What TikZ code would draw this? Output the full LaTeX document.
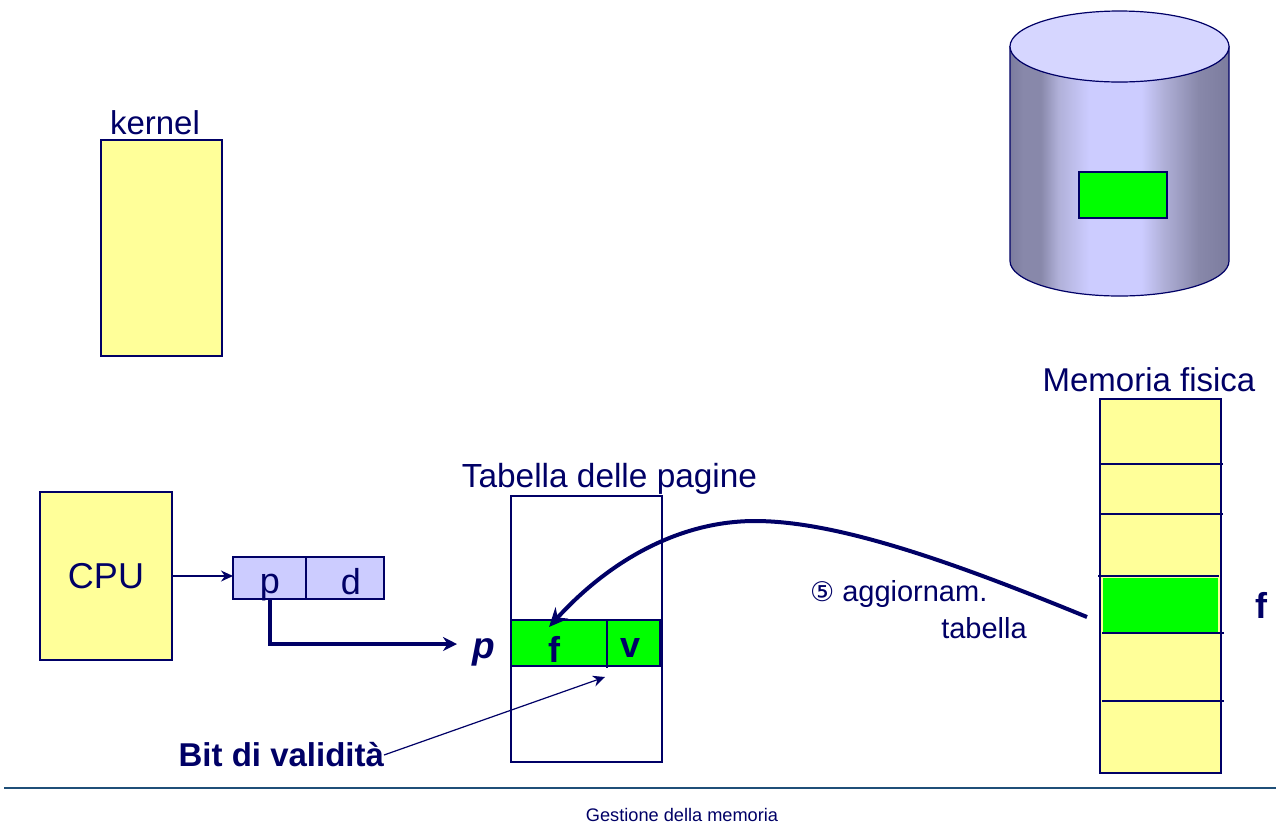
\documentclass[tikz,border=0pt]{standalone}
\usepackage{fontspec}
\setmainfont{Liberation Sans}
\newfontfamily\symfont{DejaVu Sans}
\definecolor{ink}{HTML}{000066}
\definecolor{paleyellow}{HTML}{FFFF99}
\definecolor{lav}{HTML}{CCCCFF}
\definecolor{lavtop}{HTML}{D6D6FF}
\definecolor{brightgreen}{HTML}{00FF00}
\definecolor{rulecol}{HTML}{1F4F78}
\definecolor{cyldark}{HTML}{7C7C9E}
\definecolor{cylmid}{HTML}{8888AA}
\definecolor{cylsoft}{HTML}{B0B0D8}
\pgfdeclarehorizontalshading{cylshade}{100bp}{
  color(0bp)=(cyldark); color(25bp)=(cyldark); color(28bp)=(cylmid);
  color(32bp)=(cylmid); color(36bp)=(cylsoft); color(43bp)=(lav);
  color(55bp)=(lav); color(60bp)=(cylsoft); color(68bp)=(cylmid);
  color(75bp)=(cyldark); color(100bp)=(cyldark)}
\usetikzlibrary{arrows.meta}
\tikzset{
  every node/.style={text=ink,inner sep=0pt,outer sep=0pt},
  boxline/.style={draw=ink,line width=1.2pt},
  rectbox/.style={boxline,rectangle,minimum width=#1},
  lab/.style={font=\fontsize{33}{36}\selectfont},
  biglab/.style={font=\fontsize{36}{40}\selectfont},
  boldlab/.style={font=\fontsize{36}{40}\selectfont\bfseries},
  small/.style={font=\fontsize{29}{32}\selectfont},
  thinarrow/.style={draw=ink,line width=1.2pt,-{Stealth[length=12pt,width=11pt]}},
  thickarrow/.style={draw=ink,line width=4pt,-{Stealth[length=14pt,width=14pt]}},
  divider/.style={draw=ink,line width=1.1pt},
}
\begin{document}
\begin{tikzpicture}[x=1pt,y=-1pt]
\useasboundingbox (0,0) rectangle (1276,823);

% disk
\shade[shading=cylshade,draw=ink,line width=1.2pt]
  (1010,46) -- (1010,261) arc[start angle=180,end angle=360,x radius=109.5pt,y radius=35pt]
  -- (1229,46) arc[start angle=360,end angle=180,x radius=109.5pt,y radius=35.5pt] -- cycle;
\draw[boxline,fill=lavtop] (1119.5,46.5) ellipse[x radius=109.5pt,y radius=35.5pt];
\node[rectbox=88pt,minimum height=46pt,fill=brightgreen] (diskpage) at (1123,195) {};

% kernel
\node[rectbox=121pt,minimum height=216pt,fill=paleyellow] (kernel) at (161.5,248) {};
\node[lab] (kernellab) at (155,123) {kernel};

% CPU
\node[rectbox=132pt,minimum height=168pt,fill=paleyellow,biglab] (cpu) at (106,576) {CPU};

% logical address
\node[rectbox=73pt,minimum height=42pt,fill=lav] (pcell) at (269.5,578) {};
\node[rectbox=78pt,minimum height=42pt,fill=lav] (dcell) at (345,578) {};
\node[biglab] (ptext) at (270,588) {p};
\node[biglab] (dtext) at (351,582) {d};
\draw[thinarrow] (cpu.east) -- (cpu.east -| pcell.west);

% page table
\node[font=\fontsize{33.4}{36}\selectfont] (tablab) at (609.5,479) {Tabella delle pagine};
\node[rectbox=151pt,minimum height=266pt] (tab) at (586.5,629) {};
\node[rectbox=149pt,minimum height=46pt,fill=brightgreen] (row) at (585.5,643) {};
\node[boldlab] (ftext) at (554,649) {f};
\node[boldlab] (vtext) at (631,648) {v};
\coordinate (divtop) at (607,621);
\coordinate (divbot) at (607,668);
\draw[divider] (divtop) -- (divbot);
\node[font=\fontsize{37}{40}\selectfont\bfseries\itshape] (plab) at (484,652) {p};
\coordinate (pend) at (457,644);
\draw[thickarrow] (pcell.south) |- (pend);

% validity bit
\node[font=\fontsize{33}{36}\selectfont\bfseries,anchor=east] (bit) at (384,755) {Bit di validità};
\coordinate (bitend) at (605,677);
\draw[thinarrow] (bit.east) -- (bitend);

% physical memory
\node[lab] (memlab) at (1149,380) {Memoria fisica};
\node[rectbox=121pt,minimum height=374pt,fill=paleyellow] (mem) at (1160.5,586) {};
\node[minimum width=115pt,minimum height=55pt,fill=brightgreen] (frame) at (1160.5,605.5) {};
\foreach \yy/\xa/\xb/\nm in {464/1101/1223/a,514/1101/1223/b,576/1098/1219/c,633/1102/1224/d,701/1102/1224/e}{
  \coordinate (l\nm) at (\xa,\yy);
  \coordinate (r\nm) at (\xb,\yy);
  \draw[divider] (l\nm) -- (r\nm);
}
\node[boldlab] (flab) at (1261,605) {f};

% update arrow
\coordinate (curvestart) at (1087,617);
\draw[draw=ink,line width=4pt,-{Stealth[length=19pt,width=17pt]}] (curvestart)
  .. controls (960,565) and (840,521) .. (755,521)
  .. controls (680,521) and (610,560) .. (549,627);
\node[font=\fontsize{29}{32}\selectfont,anchor=west] (upd) at (810,594) {{\symfont\fontsize{27}{30}\selectfont ⑤} aggiornam.};
\node[small] (updb) at (984,628) {tabella};

% footer
\coordinate (rulea) at (4,788);
\coordinate (ruleb) at (1276,788);
\draw[rulecol,line width=1.4pt] (rulea) -- (ruleb);
\node[font=\fontsize{18.2}{20}\selectfont] (foot) at (682,814.5) {Gestione della memoria};
\end{tikzpicture}
\end{document}
